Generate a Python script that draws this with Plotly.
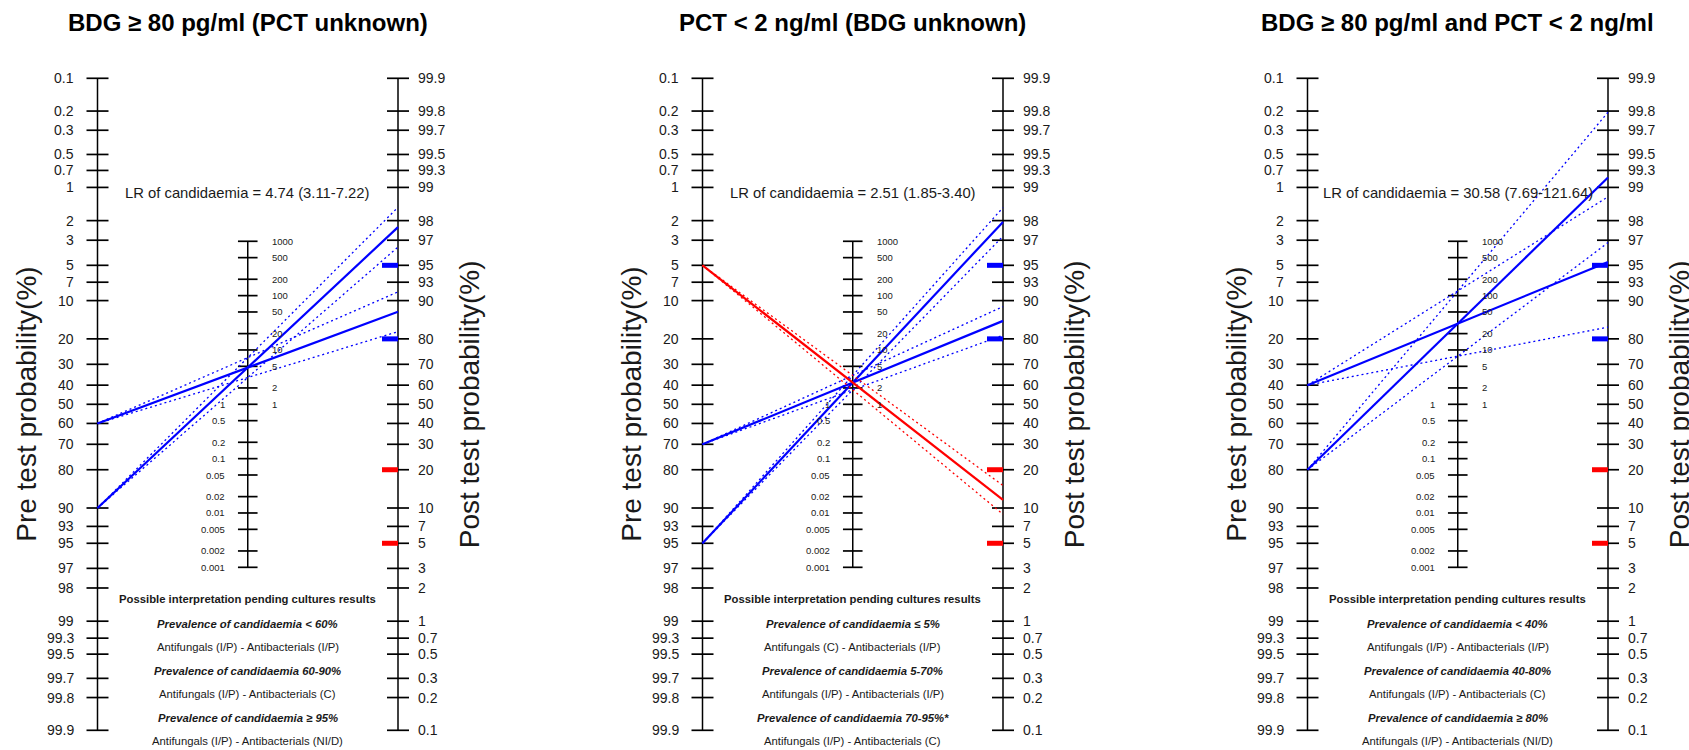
import numpy as np
import plotly.graph_objects as go

# ---------------- data ----------------
titles = ["BDG ≥ 80 pg/ml (PCT unknown)",
          "PCT &lt; 2 ng/ml (BDG unknown)",
          "BDG ≥ 80 pg/ml and PCT &lt; 2 ng/ml"]
lr_point = [4.74, 2.51, 30.58]
lr_lower = [3.11, 1.85, 7.69]
lr_upper = [7.22, 3.40, 121.64]
lr_labels = ["4.74 (3.11-7.22)", "2.51 (1.85-3.40)", "30.58 (7.69-121.64)"]
pretest_blue = [[60, 90], [70, 95], [40, 80]]
pretest_red = [[], [5], []]
cutoffs_blue = [95, 80]
cutoffs_red = [20, 5]
prob_ticks = [0.1, 0.2, 0.3, 0.5, 0.7, 1, 2, 3, 5, 7, 10, 20, 30, 40, 50, 60,
              70, 80, 90, 93, 95, 97, 98, 99, 99.3, 99.5, 99.7, 99.8, 99.9]
lr_ticks_right = [1000, 500, 200, 100, 50, 20, 10, 5, 2, 1]
lr_ticks_left = [1, 0.5, 0.2, 0.1, 0.05, 0.02, 0.01, 0.005, 0.002, 0.001]
interp_header = "Possible interpretation pending cultures results"
prevalence_text = [
    ["Prevalence of candidaemia &lt; 60%", "Prevalence of candidaemia 60-90%", "Prevalence of candidaemia ≥ 95%"],
    ["Prevalence of candidaemia ≤ 5%", "Prevalence of candidaemia 5-70%", "Prevalence of candidaemia 70-95%*"],
    ["Prevalence of candidaemia &lt; 40%", "Prevalence of candidaemia 40-80%", "Prevalence of candidaemia ≥ 80%"],
]
treatment_text = [
    ["Antifungals (I/P) - Antibacterials (I/P)", "Antifungals (I/P) - Antibacterials (C)", "Antifungals (I/P) - Antibacterials (NI/D)"],
    ["Antifungals (C) - Antibacterials (I/P)", "Antifungals (I/P) - Antibacterials (I/P)", "Antifungals (I/P) - Antibacterials (C)"],
    ["Antifungals (I/P) - Antibacterials (I/P)", "Antifungals (I/P) - Antibacterials (C)", "Antifungals (I/P) - Antibacterials (NI/D)"],
]

# ---------------- layout constants ----------------
W, H = 1689, 750
LEFT_AXIS_PX = [97.5, 702.5, 1307.5]
GAP_PX = 300.5
CENTER_PX = 404.3
UNIT_PX = 47.2
FONT = "Liberation Sans, Arial, Helvetica, sans-serif"
TXT = "#1a1a1a"
BLUE = "#0000FF"
RED = "#FF0000"


def logit(p):
    p = np.asarray(p, dtype=float)
    return np.log(p / (1 - p))


def ypx(px):
    return (CENTER_PX - px) / UNIT_PX


fig = go.Figure()
annotations = []

for i in range(3):
    xa = "x" if i == 0 else f"x{i+1}"
    ax_name = "xaxis" if i == 0 else f"xaxis{i+1}"
    tl = 11 / GAP_PX
    tm = 9.8 / GAP_PX

    def add_line(xs, ys, color="black", width=1.5, dash=None):
        fig.add_trace(go.Scatter(x=xs, y=ys, mode="lines", xaxis=xa, yaxis="y",
                                 line=dict(color=color, width=width, dash=dash),
                                 hoverinfo="skip", showlegend=False))

    p = np.array(prob_ticks) / 100.0
    yl = -logit(p)
    yr = logit(p)
    # left axis
    add_line([0, 0], [yl.min(), yl.max()])
    xs, ys = [], []
    for v in yl:
        xs += [-tl, tl, None]
        ys += [v, v, None]
    add_line(xs, ys, width=1.7)
    # right axis
    add_line([1, 1], [yr.min(), yr.max()])
    xs, ys = [], []
    for v in yr:
        xs += [1 - tl, 1 + tl, None]
        ys += [v, v, None]
    add_line(xs, ys, width=1.7)
    # middle axis
    lr_all = sorted(set(lr_ticks_right + lr_ticks_left))
    ym = np.log(np.array(lr_all)) / 2
    add_line([0.5, 0.5], [ym.min(), ym.max()])
    xs, ys = [], []
    for v in ym:
        xs += [0.5 - tm, 0.5 + tm, None]
        ys += [v, v, None]
    add_line(xs, ys, width=1.7)

    # cutoff bars on the post-test axis
    bl = 16 / GAP_PX
    for c in cutoffs_blue:
        yc = float(logit(c / 100))
        add_line([1 - bl, 1], [yc, yc], color=BLUE, width=5)
    for c in cutoffs_red:
        yc = float(logit(c / 100))
        add_line([1 - bl, 1], [yc, yc], color=RED, width=5)

    # Fagan lines
    for color, pres in ((BLUE, pretest_blue[i]), (RED, pretest_red[i])):
        for pre in pres:
            lo = float(logit(pre / 100))
            for lrv, dash, wd in ((lr_lower[i], "2px,3px", 1.3), (lr_upper[i], "2px,3px", 1.3),
                                  (lr_point[i], None, 2.2)):
                add_line([0, 1], [-lo, lo + np.log(lrv)], color=color, width=wd, dash=dash)

    # tick labels
    for val, v in zip(prob_ticks, yl):
        annotations.append(dict(x=0, y=float(v), xref=xa, yref="y", text=f"{val:g}",
                                showarrow=False, xanchor="right", yanchor="middle", xshift=-22,
                                font=dict(family=FONT, size=14, color=TXT)))
    for val, v in zip(prob_ticks, yr):
        annotations.append(dict(x=1, y=float(v), xref=xa, yref="y", text=f"{val:g}",
                                showarrow=False, xanchor="left", yanchor="middle", xshift=18,
                                font=dict(family=FONT, size=14, color=TXT)))
    for val in lr_ticks_right:
        annotations.append(dict(x=0.5, y=float(np.log(val) / 2), xref=xa, yref="y", text=f"{val:g}",
                                showarrow=False, xanchor="left", yanchor="middle", xshift=22,
                                font=dict(family=FONT, size=9.5, color=TXT)))
    for val in lr_ticks_left:
        annotations.append(dict(x=0.5, y=float(np.log(val) / 2), xref=xa, yref="y", text=f"{val:g}",
                                showarrow=False, xanchor="right", yanchor="middle", xshift=-21,
                                font=dict(family=FONT, size=9.5, color=TXT)))

    # titles and texts
    annotations.append(dict(x=0.5, y=ypx(22), xref=xa, yref="y", text=f"<b>{titles[i]}</b>",
                            showarrow=False, xanchor="center", yanchor="middle",
                            font=dict(family=FONT, size=24, color="black")))
    annotations.append(dict(x=0.5, y=ypx(192.5), xref=xa, yref="y",
                            text=f"LR of candidaemia = {lr_labels[i]}",
                            showarrow=False, xanchor="center", yanchor="middle",
                            font=dict(family=FONT, size=14.8, color=TXT)))
    annotations.append(dict(x=0, y=0, xref=xa, yref="y", text="Pre test probability(%)",
                            showarrow=False, textangle=-90, xanchor="center", yanchor="middle",
                            xshift=-71, font=dict(family=FONT, size=28, color=TXT)))
    annotations.append(dict(x=1, y=0, xref=xa, yref="y", text="Post test probability(%)",
                            showarrow=False, textangle=-90, xanchor="center", yanchor="middle",
                            xshift=71, font=dict(family=FONT, size=28, color=TXT)))
    bottom_px = [599, 624, 646.7, 671, 694.3, 718.3, 741.2]
    texts = [f"<b>{interp_header}</b>"]
    for a, b in zip(prevalence_text[i], treatment_text[i]):
        texts += [f"<b><i>{a}</i></b>", b]
    for t, py in zip(texts, bottom_px):
        annotations.append(dict(x=0.5, y=ypx(py), xref=xa, yref="y", text=t,
                                showarrow=False, xanchor="center", yanchor="middle",
                                borderpad=0, borderwidth=0,
                                font=dict(family=FONT, size=11.3, color=TXT)))

    d0, d1 = W * i / 3, W * (i + 1) / 3
    L = LEFT_AXIS_PX[i]
    fig.layout[ax_name] = dict(domain=[i / 3, (i + 1) / 3],
                               range=[(d0 - L) / GAP_PX, (d1 - L) / GAP_PX],
                               visible=False, fixedrange=True, anchor="y")

fig.update_layout(
    width=W, height=H,
    margin=dict(l=0, r=0, t=0, b=0),
    paper_bgcolor="white", plot_bgcolor="white",
    yaxis=dict(range=[-(H - CENTER_PX) / UNIT_PX, CENTER_PX / UNIT_PX], domain=[0, 1],
               visible=False, fixedrange=True),
    annotations=annotations,
    showlegend=False,
)

fig.write_html("out.html",
               config={"displayModeBar": False, "staticPlot": True},
               post_script="document.body.style.margin='0px';document.body.style.overflow='hidden';")
